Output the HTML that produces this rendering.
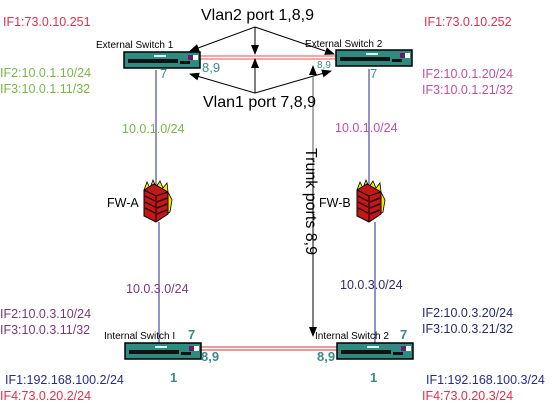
<!DOCTYPE html>
<html><head><style>
html,body{margin:0;padding:0;background:#fff;}
svg{display:block;font-family:"Liberation Sans",sans-serif;}
</style></head><body>
<svg width="553" height="406" viewBox="0 0 553 406" xmlns="http://www.w3.org/2000/svg">
<defs>
<marker id="ah" markerWidth="10" markerHeight="8" refX="9" refY="4" orient="auto" markerUnits="userSpaceOnUse">
<path d="M0,0 L10,4 L0,8 Z" fill="#000"/></marker>
<g id="sw">
<rect x="0" y="0" width="76" height="16" fill="#2f8a80" stroke="#000" stroke-width="1.5"/>
<rect x="4" y="7" width="50" height="4" fill="#111"/>
<rect x="30" y="3" width="12" height="2" fill="#dff"/>
<rect x="56" y="9" width="10" height="3" fill="#111"/>
<rect x="64" y="3" width="5" height="5" fill="#6a1a6a"/>
<rect x="69" y="3" width="5" height="5" fill="#fff"/>
</g>
<g id="fw">
<path d="M2,10 L5,2 L8,8 L11,0 L14,7 L18,1 L21,8 L25,3 L26,12 L30,20 L28,32 L22,36 L4,30 Z" fill="#f5e800" stroke="#000" stroke-width="0.8"/>
<path d="M2,10 L12,4 L26,12 L26,34 L14,42 L2,36 Z" fill="#c21818" stroke="#000" stroke-width="1"/>
<path d="M2,10 L14,16 L26,12 M14,16 L14,42" stroke="#000" stroke-width="1" fill="none"/>
<path d="M3,16 L13,21 M3,22 L13,27 M3,28 L13,33 M15,22 L25,18 M15,28 L25,24 M15,34 L25,30" stroke="#300" stroke-width="1.5"/>
</g>
</defs>

<line x1="156" y1="70" x2="156" y2="195" stroke="#2a2a8a" stroke-width="1"/>
<line x1="159" y1="222" x2="159" y2="350" stroke="#2a2a8a" stroke-width="1"/>
<line x1="369" y1="69" x2="369" y2="195" stroke="#2a2a8a" stroke-width="1"/>
<line x1="375" y1="222" x2="375" y2="350" stroke="#2a2a8a" stroke-width="1"/>

<line x1="200" y1="56" x2="336" y2="56" stroke="#f07070" stroke-width="1.2"/>
<line x1="200" y1="59" x2="336" y2="59" stroke="#f07070" stroke-width="1.2"/>
<line x1="200" y1="347" x2="337" y2="347" stroke="#e03030" stroke-width="1"/>
<line x1="200" y1="350" x2="337" y2="350" stroke="#e03030" stroke-width="1"/>

<use href="#sw" x="124" y="52"/>
<use href="#sw" x="336" y="50"/>
<use href="#sw" x="125" y="343"/>
<use href="#sw" x="337" y="343"/>

<g stroke="#000" stroke-width="1" fill="none">
<line x1="255" y1="27" x2="190" y2="51" marker-end="url(#ah)"/>
<line x1="255" y1="27" x2="334" y2="54" marker-end="url(#ah)"/>
<line x1="255" y1="27" x2="255" y2="54" marker-end="url(#ah)"/>
<line x1="255" y1="93" x2="190" y2="74" marker-end="url(#ah)"/>
<line x1="255" y1="93" x2="331" y2="71" marker-end="url(#ah)"/>
<line x1="255" y1="93" x2="255" y2="59" marker-end="url(#ah)"/>
<line x1="313" y1="170" x2="313" y2="66" marker-end="url(#ah)" stroke="#555"/>
<line x1="313" y1="170" x2="313" y2="336" marker-end="url(#ah)"/>
</g>

<use href="#fw" x="142" y="180"/>
<use href="#fw" x="355" y="180"/>

<g font-size="16" fill="#000">
<text x="201" y="20">Vlan2 port 1,8,9</text>
<text x="203" y="107">Vlan1 port 7,8,9</text>
<text transform="translate(306,148) rotate(90)">Trunk ports 8,9</text>
</g>
<g font-size="10" fill="#000">
<text x="96" y="48">External Switch 1</text>
<text x="305" y="47">External Switch 2</text>
<text x="104" y="339">Internal Switch I</text>
<text x="315" y="339">Internal Switch 2</text>
</g>
<g font-size="12.5" fill="#000">
<text x="107" y="207">FW-A</text>
<text x="319" y="207">FW-B</text>
</g>
<g fill="#3a8a88" font-size="13">
<text x="202" y="72">8,9</text>
<text x="317" y="68" font-size="10">8,9</text>
<text x="160" y="78">7</text>
<text x="370" y="78">7</text>
</g>
<g fill="#3a8a88" font-size="13" font-weight="bold">
<text x="201" y="361">8,9</text>
<text x="317" y="361">8,9</text>
<text x="188" y="339">7</text>
<text x="400" y="339">7</text>
<text x="170" y="382">1</text>
<text x="370" y="382">1</text>
</g>
<g font-size="12.5">
<text x="3" y="26" fill="#e0304a">IF1:73.0.10.251</text>
<text x="0" y="77" fill="#7ab648">IF2:10.0.1.10/24</text>
<text x="0" y="93" fill="#7ab648">IF3:10.0.1.11/32</text>
<text x="122" y="133" fill="#7ab648">10.0.1.0/24</text>
<text x="424" y="26" fill="#e0304a">IF1:73.0.10.252</text>
<text x="422" y="78" fill="#c050a0">IF2:10.0.1.20/24</text>
<text x="422" y="94" fill="#c050a0">IF3:10.0.1.21/32</text>
<text x="335" y="132" fill="#c050a0">10.0.1.0/24</text>
<text x="126" y="293" fill="#7a3a7a">10.0.3.0/24</text>
<text x="0" y="318" fill="#7a3a7a">IF2:10.0.3.10/24</text>
<text x="0" y="334" fill="#7a3a7a">IF3:10.0.3.11/32</text>
<text x="5" y="384" fill="#2a2a8a">IF1:192.168.100.2/24</text>
<text x="0" y="400" fill="#e0304a">IF4:73.0.20.2/24</text>
<text x="340" y="289" fill="#2a2a6a">10.0.3.0/24</text>
<text x="422" y="317" fill="#2a2a6a">IF2:10.0.3.20/24</text>
<text x="422" y="333" fill="#2a2a6a">IF3:10.0.3.21/32</text>
<text x="426" y="384" fill="#2a2a8a">IF1:192.168.100.3/24</text>
<text x="422" y="400" fill="#e0304a">IF4:73.0.20.3/24</text>
</g>
</svg>
</body></html>
